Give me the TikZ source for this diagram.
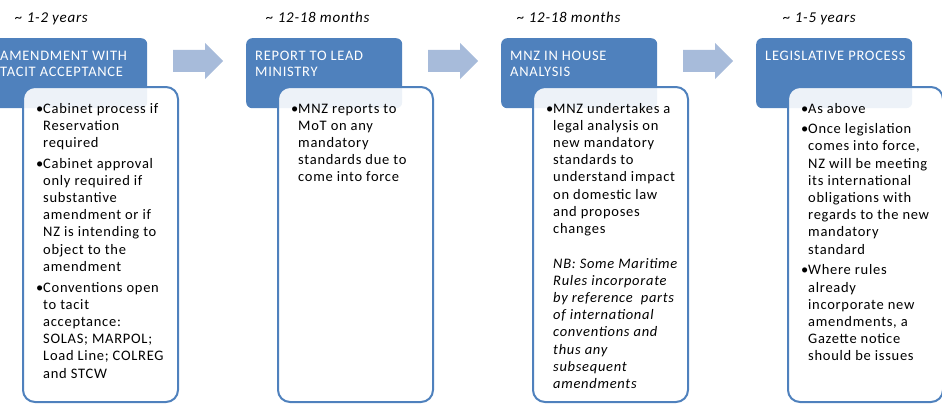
\documentclass[tikz,border=0pt]{standalone}
\usepackage{fontspec}
\setmainfont{Carlito}[LetterSpace=5]
\usetikzlibrary{positioning}

\definecolor{stageblue}{RGB}{79,129,189}
\definecolor{arrowblue}{RGB}{167,187,218}

% bullet and hanging indent for the list lines
\newcommand{\bul}{\makebox[7pt][l]{\textbullet}}
\newcommand{\ind}{\hspace*{7pt}}

\tikzset{
  blockarrow/.pic={\fill[arrowblue] (0,-11) -- (32,-11) -- (32,-18) -- (50,0) -- (32,18) -- (32,11) -- (0,11) -- cycle;}
}

\begin{document}
\begin{tikzpicture}[
    x=1pt, y=-1pt,
    stage/.style={fill=stageblue, rounded corners=6pt, minimum width=156pt, minimum height=70pt, inner sep=0pt, anchor=north west},
    detail/.style={draw=stageblue, line width=2pt, fill=white, fill opacity=0.9, rounded corners=12pt, minimum width=155pt, minimum height=315pt, inner sep=0pt, anchor=north west},
    stagetext/.style={anchor=base west, inner sep=0pt, text=white, font=\fontsize{14.5}{17}\selectfont},
    bodytext/.style={anchor=base west, inner sep=0pt, font=\fontsize{14.5}{17.2}\selectfont},
    timelabel/.style={anchor=base west, inner sep=0pt, font=\fontsize{15}{18}\selectfont\itshape}
  ]
  \useasboundingbox (0,0) rectangle (942,404);
  \clip (0,0) rectangle (942,404);

  % time spans
  \node[timelabel] (amendtime) at (15,23) {\textasciitilde{} 1-2 years};
  \node[timelabel] (reporttime) at (266,23) {\textasciitilde{} 12-18 months};
  \node[timelabel] (analysistime) at (517,23) {\textasciitilde{} 12-18 months};
  \node[timelabel] (legistime) at (783,23) {\textasciitilde{} 1-5 years};

  % stage headers
  \node[stage] (amend) at (-9,38) {};
  \node[stage] (report) at (246,38) {};
  \node[stage] (analysis) at (501,38) {};
  \node[stage] (legis) at (756,38) {};
  \node[stagetext] (amendhead) at (0,60) {\parbox[t]{200pt}{\raggedright AMENDMENT WITH\\TACIT ACCEPTANCE}};
  \node[stagetext] (reporthead) at (255,60) {\parbox[t]{200pt}{\raggedright REPORT TO LEAD\\MINISTRY}};
  \node[stagetext] (analysishead) at (510,60) {\parbox[t]{200pt}{\raggedright MNZ IN HOUSE\\ANALYSIS}};
  \node[stagetext] (legishead) at (765,60) {\parbox[t]{200pt}{\raggedright LEGISLATIVE PROCESS}};

  % arrows between stages
  \pic at (173,61) {blockarrow};
  \pic at (428,61) {blockarrow};
  \pic at (683,61) {blockarrow};

  % detail boxes
  \node[detail] (amendbox) at (22,86) {};
  \node[detail] (reportbox) at (277,86) {};
  \node[detail] (analysisbox) at (532,86) {};
  \node[detail] (legisbox) at (787,86) {};

  \node[bodytext] (amendlist) at (36,113) {\parbox[t]{200pt}{\raggedright
    \bul Cabinet process if\\ \ind Reservation\\ \ind required\\[3.5pt]
    \bul Cabinet approval\\ \ind only required if\\ \ind substantive\\ \ind amendment or if\\ \ind NZ is intending to\\ \ind object to the\\ \ind amendment\\[3.5pt]
    \bul Conventions open\\ \ind to tacit\\ \ind acceptance:\\ \ind SOLAS; MARPOL;\\ \ind Load Line; COLREG\\ \ind and STCW}};
  \node[bodytext] (reportlist) at (291,113) {\parbox[t]{200pt}{\raggedright
    \bul MNZ reports to\\ \ind MoT on any\\ \ind mandatory\\ \ind standards due to\\ \ind come into force}};
  \node[bodytext] (analysislist) at (546,113) {\parbox[t]{200pt}{\raggedright
    \bul MNZ undertakes a\\ \ind legal analysis on\\ \ind new mandatory\\ \ind standards to\\ \ind understand impact\\ \ind on domestic law\\ \ind and proposes\\ \ind changes\\[17.4pt]
    {\itshape \ind NB: Some Maritime\\ \ind Rules incorporate\\ \ind by reference\ \ parts\\ \ind of international\\ \ind conventions and\\ \ind thus any\\ \ind subsequent\\ \ind amendments}}};
  \node[bodytext] (legislist) at (801,113) {\parbox[t]{200pt}{\raggedright
    \bul As above\\[3.5pt]
    \bul Once legislation\\ \ind comes into force,\\ \ind NZ will be meeting\\ \ind its international\\ \ind obligations with\\ \ind regards to the new\\ \ind mandatory\\ \ind standard\\[3.5pt]
    \bul Where rules\\ \ind already\\ \ind incorporate new\\ \ind amendments, a\\ \ind Gazette notice\\ \ind should be issues}};
\end{tikzpicture}
\end{document}
